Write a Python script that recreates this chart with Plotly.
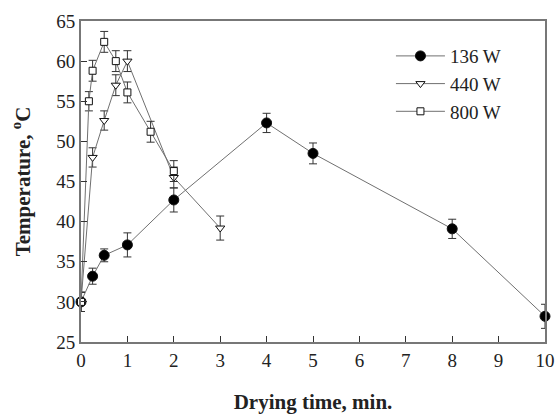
import plotly.graph_objects as go

# 136 W
t136 = [0, 0.25, 0.5, 1, 2, 4, 5, 8, 10]
T136 = [30, 33.2, 35.8, 37.1, 42.7, 52.3, 48.5, 39.1, 28.2]
e136 = [1.2, 1.0, 0.8, 1.5, 1.5, 1.2, 1.3, 1.2, 1.5]

# 440 W
t440 = [0, 0.25, 0.5, 0.75, 1, 2, 3]
T440 = [30, 48, 52.6, 57, 60, 45.5, 39.2]
e440 = [1.2, 1.2, 1.2, 1.3, 1.3, 1.3, 1.5]

# 800 W
t800 = [0, 0.17, 0.25, 0.5, 0.75, 1, 1.5, 2]
T800 = [30, 55, 58.8, 62.4, 60, 56.1, 51.2, 46.3]
e800 = [1.2, 1.2, 1.3, 1.3, 1.3, 1.3, 1.3, 1.3]

x_ticks = [0, 1, 2, 3, 4, 5, 6, 7, 8, 9, 10]
y_ticks = [25, 30, 35, 40, 45, 50, 55, 60, 65]

FONT = "Liberation Serif, Times New Roman, serif"
LINE = "#707070"

fig = go.Figure()

def add(tx, ty, te, name, symbol, fill, size):
    fig.add_trace(go.Scatter(
        x=tx, y=ty, name=name, mode="lines+markers",
        line=dict(color=LINE, width=1),
        marker=dict(symbol=symbol, size=size, color=fill,
                    line=dict(color="#111111", width=1)),
        error_y=dict(type="data", array=te, visible=True,
                     color="#333333", thickness=1, width=4),
        cliponaxis=False,
    ))

add(t136, T136, e136, "136 W", "circle", "#000000", 10)
add(t440, T440, e440, "440 W", "triangle-down", "#ffffff", 8)
add(t800, T800, e800, "800 W", "square", "#ffffff", 7)

axis_common = dict(
    showline=True, linecolor="#777777", linewidth=2, mirror=True,
    ticks="inside", ticklen=6, tickcolor="#333333", tickwidth=1,
    showgrid=False, zeroline=False, automargin=False,
    tickfont=dict(family=FONT, size=19, color="#222222"),
)

fig.update_layout(
    width=555, height=414,
    margin=dict(l=81, r=10, t=21, b=72),
    paper_bgcolor="white", plot_bgcolor="white",
    font=dict(family=FONT, color="#222222"),
    xaxis=dict(range=[0, 10], tickvals=x_ticks,
               title=dict(text="<b>Drying time, min.</b>",
                          font=dict(family=FONT, size=21), standoff=26),
               **axis_common),
    yaxis=dict(range=[25, 65], tickvals=y_ticks,
               title=dict(text="<b>Temperature, <sup>o</sup>C</b>",
                          font=dict(family=FONT, size=21), standoff=20),
               **axis_common),
    legend=dict(x=0.668, y=0.95, xanchor="left", yanchor="top",
                bgcolor="rgba(0,0,0,0)", borderwidth=0,
                font=dict(family=FONT, size=19, color="#222222"),
                itemwidth=49, tracegroupgap=0),
    showlegend=True,
)

fig.write_html("out.html", config={"displayModeBar": False},
               post_script="document.body.style.margin='0px';")
